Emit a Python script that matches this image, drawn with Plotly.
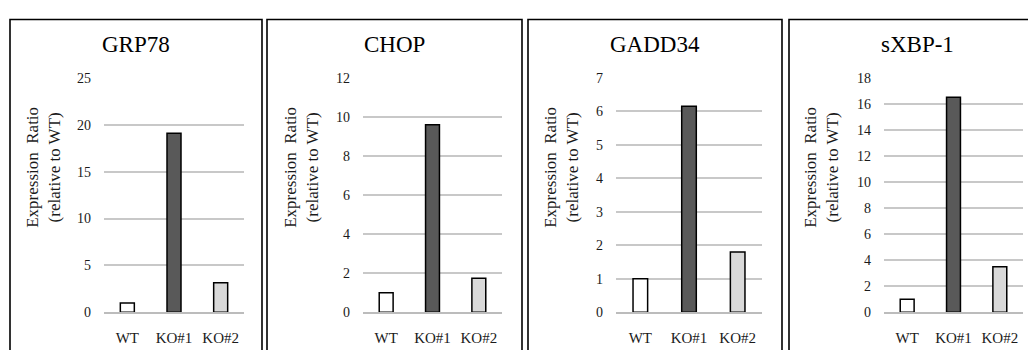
import plotly.graph_objects as go

W, H = 1028, 350

genes = ["GRP78", "CHOP", "GADD34", "sXBP-1"]
categories = ["WT", "KO#1", "KO#2"]
grp78 = [1.0, 19.1, 3.15]
chop = [1.0, 9.6, 1.75]
gadd34 = [1.0, 6.15, 1.8]
sxbp1 = [1.0, 16.5, 3.5]
series = [grp78, chop, gadd34, sxbp1]
y_max = [25, 12, 7, 18]
y_step = [5, 2, 1, 2]
y_title = "Expression\u00a0 Ratio<br>(relative to WT)"

bar_colors = ["#ffffff", "#595959", "#d9d9d9"]

# layout (pixels)
panels = [(10, 262), (267, 522), (528, 782), (789, 1045)]
plot_x = [(104, 244), (363, 502), (616, 762), (884, 1023)]
plot_y = (74, 319)
ytitle_x = [44, 302, 562, 822]
title_y = 39
panel_top = 13

def px(x):
    return x / W

def py(y):
    return 1 - y / H

fig = go.Figure()
font_family = "Liberation Serif"

shapes = []
annotations = []
for i, (gene, vals) in enumerate(zip(genes, series)):
    xa = "x" if i == 0 else f"x{i+1}"
    ya = "y" if i == 0 else f"y{i+1}"
    fig.add_trace(go.Bar(
        x=categories, y=vals, xaxis=xa, yaxis=ya,
        width=0.3,
        marker=dict(color=bar_colors, line=dict(color="#000000", width=1.5)),
        showlegend=False, hoverinfo="x+y",
    ))
    xkey = "xaxis" if i == 0 else f"xaxis{i+1}"
    ykey = "yaxis" if i == 0 else f"yaxis{i+1}"
    fig.update_layout(**{
        xkey: dict(
            domain=[px(plot_x[i][0]), px(plot_x[i][1])],
            anchor=ya, showgrid=False, zeroline=False,
            showline=True, linecolor="#bcbcbc", linewidth=1.6,
            ticks="", ticklabelstandoff=11,
            tickfont=dict(family=font_family, size=15, color="#1a1a1a"),
            fixedrange=True,
        ),
        ykey: dict(
            domain=[py(plot_y[1]), py(plot_y[0])],
            anchor=xa, range=[0, y_max[i]], dtick=y_step[i], tick0=0,
            showgrid=True, gridcolor="#c8c8c8", gridwidth=1.5,
            zeroline=False, showline=False, ticks="",
            ticklabelstandoff=12,
            tickfont=dict(family=font_family, size=14, color="#1a1a1a"),
            fixedrange=True,
        ),
    })
    x0, x1 = panels[i]
    shapes.append(dict(
        type="path", xref="paper", yref="paper",
        path=f"M {px(x0)},{py(H + 20)} L {px(x0)},{py(panel_top)} L {px(x1)},{py(panel_top)} L {px(x1)},{py(H + 20)}",
        line=dict(color="#000000", width=1.6),
    ))
    annotations.append(dict(
        text=gene, xref="paper", yref="paper",
        x=px((x0 + x1) / 2), y=py(title_y), xanchor="center", yanchor="middle",
        showarrow=False, font=dict(family=font_family, size=23, color="#000000"),
    ))
    annotations.append(dict(
        text=y_title, xref="paper", yref="paper",
        x=px(ytitle_x[i]), y=py(168), xanchor="center", yanchor="middle",
        textangle=-90, showarrow=False,
        font=dict(family=font_family, size=17, color="#1a1a1a"),
    ))

fig.update_layout(
    width=W, height=H,
    margin=dict(l=0, r=0, t=0, b=0),
    font=dict(family=font_family),
    paper_bgcolor="#ffffff", plot_bgcolor="#ffffff",
    shapes=shapes, annotations=annotations,
    bargap=0.7,
)

fig.write_html("out.html", config={"displayModeBar": False})
